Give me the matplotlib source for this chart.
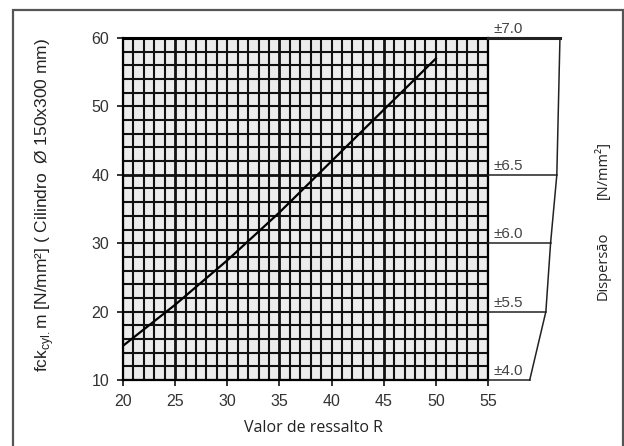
import matplotlib
matplotlib.use("Agg")
import matplotlib.pyplot as plt
from matplotlib.patches import Rectangle

# Rebound value R vs. mean cylinder compressive strength
rebound = [20, 25, 30, 35, 40, 45, 50]
strength = [15, 21, 27.5, 34.5, 42, 49.5, 57]

x_ticks = [20, 25, 30, 35, 40, 45, 50, 55]
y_ticks = [10, 20, 30, 40, 50, 60]

# Dispersion scale on the right side
disp_levels = [60, 40, 30, 20, 10]
disp_labels = ["±7.0", "±6.5", "±6.0", "±5.5", "±4.0"]

W, H = 624, 446
fig = plt.figure(figsize=(W / 100, H / 100), dpi=100)
plt.rcParams["font.family"] = ["Liberation Sans", "DejaVu Sans"]

ax = fig.add_axes([123 / W, 1 - 380 / H, (488 - 123) / W, (380 - 38) / H])
ax.set_facecolor("#ececec")
ax.set_xlim(20, 55)
ax.set_ylim(10, 60)

# fine grid: 1 unit along R, 2 units along strength
thick_x = {25, 35, 45}
thick_y = {40}
for xv in range(20, 56):
    ax.axvline(xv, color="#111111", lw=2.0 if xv in thick_x else 1.5, zorder=1)
for yv in range(10, 61, 2):
    ax.axhline(yv, color="#111111", lw=2.0 if yv in thick_y else 1.5, zorder=1)

ax.plot(rebound, strength, color="black", lw=1.6, zorder=3)

for s in ax.spines.values():
    s.set_linewidth(1.6)
    s.set_color("black")
ax.spines["top"].set_linewidth(2.2)

ax.set_xticks(x_ticks)
ax.set_yticks(y_ticks)
ax.tick_params(direction="out", length=4, width=1.2, colors="#111111",
               labelcolor="#333333", labelsize=11.5, pad=6)

# dispersion bracket drawn to the right of the grid
bracket_x = [61.9, 61.6, 61.0, 60.55, 59.0]
for lvl, lab, xe in zip(disp_levels, disp_labels, bracket_x):
    ax.plot([55, xe], [lvl, lvl], color="#222222",
            lw=2.2 if lvl == disp_levels[0] else 1.1, clip_on=False, zorder=4)
    ax.text(55.5, lvl + 0.3, lab, fontsize=11, color="#444444",
            ha="left", va="bottom", clip_on=False)
ax.plot(bracket_x, disp_levels, color="#222222", lw=1.1, clip_on=False)

# axis titles
fig.text(45 / W, 1 - 205 / H,
         r"fck$_{\mathregular{cyl.}}$m [N/mm²] ( Cilindro  Ø 150x300 mm)",
         rotation=90, ha="center", va="center", fontsize=12.5, color="#222222")
fig.text(313 / W, 1 - 428 / H, "Valor de ressalto R", ha="center", va="center",
         fontsize=11.5, color="#222222", family=["Open Sans", "DejaVu Sans"])
fig.text(603 / W, 1 - 266 / H, "Dispersão", rotation=90, ha="center", va="center",
         fontsize=10.5, color="#222222", family=["Open Sans", "DejaVu Sans"])
fig.text(603 / W, 1 - 170 / H, "[N/mm²]", rotation=90, ha="center", va="center",
         fontsize=10.5, color="#222222", family=["Open Sans", "DejaVu Sans"])

# frame around the whole figure
fig.add_artist(Rectangle((13 / W, -0.02), (623 - 13) / W, 1 - 10 / H + 0.02,
                         transform=fig.transFigure, fill=False,
                         ec="#555555", lw=1.6))

fig.savefig("out.png", dpi=100)
